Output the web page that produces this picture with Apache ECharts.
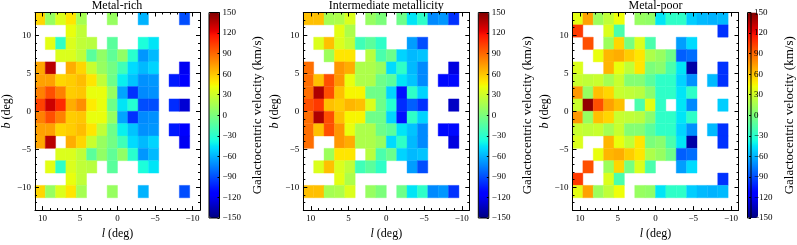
<!DOCTYPE html>
<html><head><meta charset="utf-8">
<script src="https://cdn.jsdelivr.net/npm/echarts@6/dist/echarts.min.js"></script>
<style>html,body{margin:0;padding:0;background:#fff}#c{width:797px;height:245px}</style>
</head><body><div id="c"></div>
<script>
// ---- data ----
const lEdges = [11, 9.625, 8.25, 6.875, 5.5, 4.125, 2.75, 1.375, 0, -1.375, -2.75, -4.125, -5.5, -6.875, -8.25, -9.625, -11];
const bEdges = [13, 11.375, 9.75, 8.125, 6.5, 4.875, 3.25, 1.625, 0, -1.625, -3.25, -4.875, -6.5, -8.125, -9.75, -11.375, -13];
const panelTitles = ['Metal-rich', 'Intermediate metallicity', 'Metal-poor'];
const lTicks = [10, 5, 0, -5, -10];
const bTicks = [10, 5, 0, -5, -10];
const cbarTicks = [150, 120, 90, 60, 30, 0, -30, -60, -90, -120, -150];
const N = null;
// rows from top (b high) to bottom, columns from l=11 towards l=-11
const metalRich = [
  [55, 10, 35, 50, 15, N, N, 10, N, N, -60, N, N, N, -90],
  [N, N, N, 40, 25, N, N, N, N, N, N, N, N, N, N],
  [N, 38, -28, 35, 25, 22, N, -12, N, N, -35, -45, N, N, N],
  [N, N, 35, 35, 25, -12, 8, -10, 8, -30, -68, -58, N, N, N],
  [70, 135, N, 68, 55, 28, 10, -3, -22, -48, -58, -50, N, N, -120],
  [72, 72, 55, 58, 63, 50, 25, -5, -42, -55, -70, -68, N, -105, -115],
  [82, 98, 82, 58, 60, 40, 40, 10, -64, -98, -72, -70, N, N, N],
  [102, 130, 110, 68, 78, 48, 40, -5, -45, -32, -90, -90, N, -100, -128],
  [82, 98, 82, 58, 60, 40, 40, 10, -64, -98, -72, -70, N, N, N],
  [72, 72, 55, 58, 63, 50, 25, -5, -42, -55, -70, -68, N, -105, -115],
  [70, 135, N, 68, 55, 28, 10, -3, -22, -48, -58, -50, N, N, -120],
  [N, N, 35, 35, 25, -12, 8, -10, 8, -30, -68, -58, N, N, N],
  [N, 38, -28, 35, 25, 22, N, -12, N, N, -35, -45, N, N, N],
  [N, N, N, 40, 25, N, N, N, N, N, N, N, N, N, N],
  [55, 10, 35, 50, 15, N, N, 10, N, N, -60, N, N, N, -90]
];
const intermediate = [
  [62, 62, 15, 18, 35, N, 10, 0, N, -5, -45, -28, -72, -68, -98],
  [N, N, N, 38, 18, N, N, N, N, N, N, N, N, N, N],
  [N, 35, 62, 35, 25, -22, -12, -28, N, N, -66, -90, N, N, N],
  [N, N, 12, 50, 50, N, 22, -18, -6, -50, -58, -55, N, N, N],
  [88, N, N, 75, 68, 18, 18, 10, -48, -28, -58, -72, N, N, -125],
  [88, 62, 98, 75, 40, 18, 18, -5, -12, -45, -55, -72, N, -110, -110],
  [88, 138, 98, 62, 45, 45, -5, -5, -50, -108, -28, -50, N, N, N],
  [98, 105, 62, 58, 65, 62, 35, -5, -32, -100, -85, -98, N, N, -132],
  [88, 138, 98, 62, 45, 45, -5, -5, -50, -108, -28, -50, N, N, N],
  [88, 62, 98, 75, 40, 18, 18, -5, -12, -45, -55, -72, N, -110, -110],
  [88, N, N, 75, 68, 18, 18, 10, -48, -28, -58, -72, N, N, -125],
  [N, N, 12, 50, 50, N, 22, -18, -6, -50, -58, -55, N, N, N],
  [N, 35, 62, 35, 25, -22, -12, -28, N, N, -66, -90, N, N, N],
  [N, N, N, 38, 18, N, N, N, N, N, N, N, N, N, N],
  [62, 62, 15, 18, 35, N, 10, 0, N, -5, -45, -28, -72, -68, -98]
];
const metalPoor = [
  [38, 72, 12, 25, 42, N, 10, 8, -45, -28, -28, -52, -58, -60, -58],
  [105, N, N, 35, -18, N, N, N, N, N, N, N, N, N, -98],
  [N, 98, N, 12, 55, -2, 35, -18, N, N, -66, -48, N, N, N],
  [N, N, 40, 65, 68, 58, 50, 18, 10, -5, -85, -80, N, N, N],
  [35, N, N, 65, 40, 25, 50, 0, 5, -18, -45, -140, N, N, -98],
  [28, 25, 28, 15, 28, 3, 3, -12, -28, -28, -50, -70, N, -58, -98],
  [75, 10, 62, 55, 28, 25, 22, 5, -28, -28, -45, -28, N, N, N],
  [28, 145, 98, 72, 62, N, -18, 38, -28, N, -45, -72, N, N, -52],
  [75, 10, 62, 55, 28, 25, 22, 5, -28, -28, -45, -28, N, N, N],
  [28, 25, 28, 15, 28, 3, 3, -12, -28, -28, -50, -70, N, -58, -98],
  [35, N, N, 65, 40, 25, 50, 0, 5, -18, -45, -140, N, N, -98],
  [N, N, 40, 65, 68, 58, 50, 18, 10, -5, -85, -80, N, N, N],
  [N, 98, N, 12, 55, -2, 35, -18, N, N, -66, -48, N, N, N],
  [105, N, N, 35, -18, N, N, N, N, N, N, N, N, N, -98],
  [38, 72, 12, 25, 42, N, 10, 8, -45, -28, -28, -52, -58, -60, -58]
];
const panels = [metalRich, intermediate, metalPoor];

// ---- colormap (jet) ----
function jetAt(t) {
  const seg = pts => {
    for (let i = 1; i < pts.length; i++) {
      if (t <= pts[i][0]) {
        const [x0, y0] = pts[i - 1], [x1, y1] = pts[i];
        return y0 + (y1 - y0) * (t - x0) / (x1 - x0);
      }
    }
    return pts[pts.length - 1][1];
  };
  const r = seg([[0, 0], [0.35, 0], [0.66, 1], [0.89, 1], [1, 0.5]]);
  const g = seg([[0, 0], [0.125, 0], [0.375, 1], [0.64, 1], [0.91, 0], [1, 0]]);
  const b = seg([[0, 0.5], [0.11, 1], [0.34, 1], [0.65, 0], [1, 0]]);
  const h = v => Math.round(v * 255).toString(16).padStart(2, '0');
  return '#' + h(r) + h(g) + h(b);
}
const jet = [];
for (let i = 0; i <= 200; i++) jet.push(jetAt(i / 200));

// ---- layout ----
const FONT = "'Liberation Serif', 'DejaVu Serif', serif";
const frameLeft = [34, 303.3, 572.5];
const TOP = 12.5, W = 166, H = 205.5;
const CB_OFF = 175, CB_W = 10.5;
const minus = v => String(v).replace('-', '\u2212');
const line = { show: true, onZero: false, lineStyle: { color: '#000', width: 1 } };
const noLine = { show: false, onZero: false };

const grids = [], xAxes = [], yAxes = [], series = [], visualMaps = [], titles = [];
panels.forEach((grid, p) => {
  const L = frameLeft[p];
  const gi = grids.length;
  grids.push({ left: L, top: TOP, width: W, height: H });
  const cgi = grids.length;
  grids.push({ left: L + CB_OFF, top: TOP, width: CB_W, height: H, show: true, borderColor: '#000', borderWidth: 1, backgroundColor: 'transparent', z: 10 });

  const base = { gridIndex: gi, type: 'value', min: -11, max: 11, inverse: true, splitLine: { show: false }, z: 10 };
  const xi = xAxes.length;
  xAxes.push(Object.assign({}, base, {
    position: 'bottom', interval: 1, axisLine: line,
    axisTick: { show: true, inside: true, length: 2, lineStyle: { color: '#000' } },
    axisLabel: { show: true, customValues: lTicks, formatter: minus, fontFamily: FONT, fontSize: 9, color: '#000', margin: 4 },
    name: '{i|l} (deg)', nameLocation: 'middle', nameGap: 13,
    nameTextStyle: { fontFamily: FONT, fontSize: 12, color: '#000', rich: { i: { fontStyle: 'italic', fontFamily: FONT, fontSize: 12 } } }
  }));
  xAxes.push(Object.assign({}, base, {
    position: 'bottom', axisLine: noLine,
    axisTick: { show: true, inside: true, length: 4, customValues: lTicks, lineStyle: { color: '#000' } },
    axisLabel: { show: false }
  }));
  xAxes.push(Object.assign({}, base, {
    position: 'top', interval: 1, axisLine: line,
    axisTick: { show: true, inside: true, length: 2, lineStyle: { color: '#000' } },
    axisLabel: { show: false }
  }));
  xAxes.push(Object.assign({}, base, {
    position: 'top', axisLine: noLine,
    axisTick: { show: true, inside: true, length: 4, customValues: lTicks, lineStyle: { color: '#000' } },
    axisLabel: { show: false }
  }));

  const ybase = { gridIndex: gi, type: 'value', min: -13, max: 13, splitLine: { show: false }, z: 10 };
  const yi = yAxes.length;
  yAxes.push(Object.assign({}, ybase, {
    position: 'left', interval: 1, axisLine: line,
    axisTick: { show: true, inside: true, length: 2, lineStyle: { color: '#000' } },
    axisLabel: { show: true, customValues: bTicks, formatter: minus, fontFamily: FONT, fontSize: 9, color: '#000', margin: 4 },
    name: '{i|b} (deg)', nameLocation: 'middle', nameGap: 19, nameRotate: 90,
    nameTextStyle: { fontFamily: FONT, fontSize: 12, color: '#000', rich: { i: { fontStyle: 'italic', fontFamily: FONT, fontSize: 12 } } }
  }));
  yAxes.push(Object.assign({}, ybase, {
    position: 'left', axisLine: noLine,
    axisTick: { show: true, inside: true, length: 4, customValues: bTicks, lineStyle: { color: '#000' } },
    axisLabel: { show: false }
  }));
  yAxes.push(Object.assign({}, ybase, {
    position: 'right', interval: 1, axisLine: line,
    axisTick: { show: true, inside: true, length: 2, lineStyle: { color: '#000' } },
    axisLabel: { show: false }
  }));
  yAxes.push(Object.assign({}, ybase, {
    position: 'right', axisLine: noLine,
    axisTick: { show: true, inside: true, length: 4, customValues: bTicks, lineStyle: { color: '#000' } },
    axisLabel: { show: false }
  }));

  // colorbar axes
  xAxes.push({ gridIndex: cgi, type: 'value', min: 0, max: 1, show: false });
  yAxes.push({
    gridIndex: cgi, type: 'value', min: -150, max: 150, interval: 30, position: 'right', z: 10,
    splitLine: { show: false },
    axisLine: noLine,
    axisTick: { show: true, inside: true, length: 2, lineStyle: { color: '#000' } },
    axisLabel: { show: true, customValues: cbarTicks, formatter: minus, fontFamily: FONT, fontSize: 9, color: '#000', margin: 3 },
    name: 'Galactocentric velocity (km/s)', nameLocation: 'middle', nameRotate: 90, nameGap: 32,
    nameTextStyle: { fontFamily: FONT, fontSize: 13, color: '#000' }
  });

  const data = [];
  grid.forEach((row, r) => row.forEach((v, c) => {
    if (v !== null) data.push([lEdges[c], lEdges[c + 1], bEdges[r + 1], bEdges[r], v]);
  }));
  series.push({
    type: 'custom', xAxisIndex: xi, yAxisIndex: yi, data,
    encode: { x: [0, 1], y: [2, 3] },
    renderItem: (params, api) => {
      const a = api.coord([api.value(0), api.value(3)]);
      const b = api.coord([api.value(1), api.value(2)]);
      const col = api.visual('color');
      return {
        type: 'rect',
        shape: { x: Math.min(a[0], b[0]), y: Math.min(a[1], b[1]), width: Math.abs(b[0] - a[0]), height: Math.abs(b[1] - a[1]) },
        style: { fill: col, stroke: col, lineWidth: 0.4 }
      };
    }
  });

  visualMaps.push({
    type: 'continuous', seriesIndex: p, dimension: 4, min: -150, max: 150,
    inRange: { color: jet }, calculable: false, hoverLink: false, realtime: false,
    itemWidth: CB_W, itemHeight: H, left: L + CB_OFF, top: TOP, padding: 0,
    text: null, showLabel: false
  });

  titles.push({
    text: panelTitles[p], left: L + W / 2, top: 0, textAlign: 'center', padding: 0,
    textStyle: { fontFamily: FONT, fontSize: 12, fontWeight: 'normal', color: '#000' }
  });
});

const chart = echarts.init(document.getElementById('c'), null, { renderer: 'canvas' });
chart.setOption({
  animation: false,
  backgroundColor: '#fff',
  title: titles,
  grid: grids,
  xAxis: xAxes,
  yAxis: yAxes,
  visualMap: visualMaps,
  series
});
</script>
</body></html>
